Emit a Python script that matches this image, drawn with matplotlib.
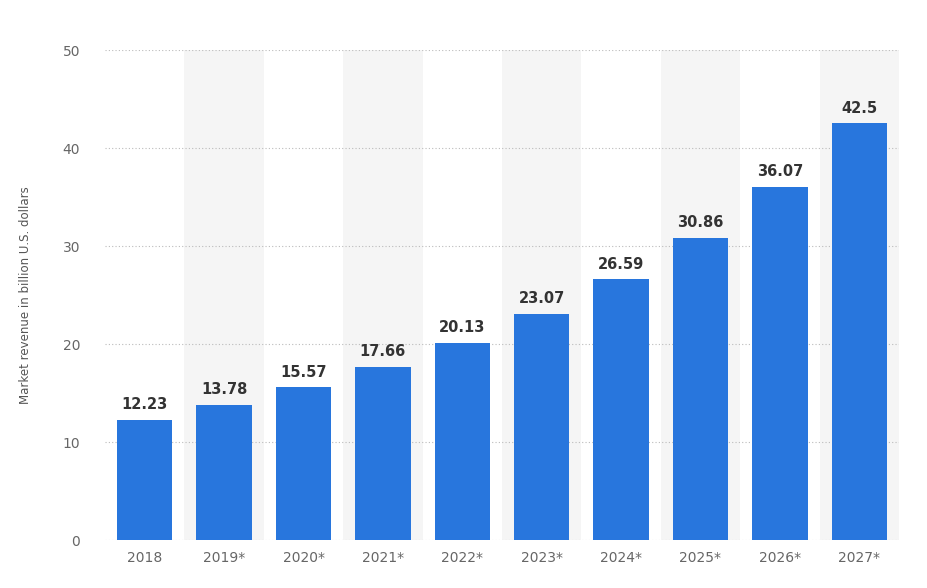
import matplotlib
matplotlib.use("Agg")
import matplotlib.pyplot as plt

categories = ["2018", "2019*", "2020*", "2021*", "2022*", "2023*", "2024*", "2025*", "2026*", "2027*"]
values = [12.23, 13.78, 15.57, 17.66, 20.13, 23.07, 26.59, 30.86, 36.07, 42.5]
yticks = [0, 10, 20, 30, 40, 50]

fig = plt.figure(figsize=(9.27, 5.88), dpi=100)
ax = fig.add_axes([105/927, 48/588, 794/927, 490/588])
x = list(range(len(categories)))
for i in x:
    if i % 2 == 1:
        ax.axvspan(i - 0.5, i + 0.5, color="#f5f5f5", zorder=0, lw=0)
ax.bar(x, values, width=0.7, color="#2876dd", zorder=3)
for i, v in zip(x, values):
    ax.text(i, v + 0.8, f"{v:g}", ha="center", va="bottom", fontsize=10.5,
            fontweight="bold", color="#333333", zorder=4)
ax.set_xlim(-0.5, len(categories) - 0.5)
ax.set_ylim(0, 50)
ax.set_yticks(yticks)
ax.set_xticks(x)
ax.set_xticklabels(categories)
ax.yaxis.grid(True, linestyle=(0, (1, 2)), color="#bbbbbb", lw=0.8, zorder=1)
ax.tick_params(axis="both", length=0, colors="#666666", labelsize=10)
ax.tick_params(axis="y", pad=18)
ax.tick_params(axis="x", pad=8)
for s in ax.spines.values():
    s.set_visible(False)
ax.set_ylabel("Market revenue in billion U.S. dollars", fontsize=8.5, color="#555555", labelpad=22)
fig.savefig("out.png", dpi=100)
